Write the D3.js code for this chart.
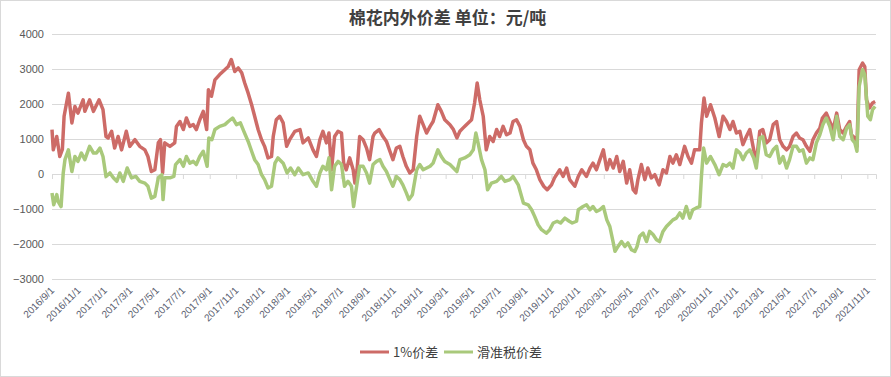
<!DOCTYPE html>
<html>
<head>
<meta charset="utf-8">
<script src="https://cdn.jsdelivr.net/npm/d3@7"></script>
<style>
  body { margin: 0; background: #fff; }
  svg { display: block; font-family: "Liberation Sans", Arial, sans-serif; }
</style>
</head>
<body>
<svg id="chart" width="891" height="377"></svg>
<script>
// chart texts
const chartTitle = "棉花内外价差 单位：元/吨";
const seriesNames = ["1%价差", "滑准税价差"];
const yTicks = [-3000, -2000, -1000, 0, 1000, 2000, 3000, 4000];
const xTickLabels = [
  "2016/9/1", "2016/11/1", "2017/1/1", "2017/3/1", "2017/5/1", "2017/7/1", "2017/9/1", "2017/11/1",
  "2018/1/1", "2018/3/1", "2018/5/1", "2018/7/1", "2018/9/1", "2018/11/1", "2019/1/1", "2019/3/1",
  "2019/5/1", "2019/7/1", "2019/9/1", "2019/11/1", "2020/1/1", "2020/3/1", "2020/5/1", "2020/7/1",
  "2020/9/1", "2020/11/1", "2021/1/1", "2021/3/1", "2021/5/1", "2021/7/1", "2021/9/1", "2021/11/1"
];
const dateRange = ["2016-09-01", "2021-11-21"];

// 1%价差
const spread1Pct = [
  ["2016-09-01",1270],["2016-09-04",690],["2016-09-12",1070],["2016-09-19",500],["2016-09-25",700],
  ["2016-09-29",1650],["2016-10-09",2310],["2016-10-17",1460],["2016-10-24",1930],["2016-10-31",1740],
  ["2016-11-12",2120],["2016-11-16",1790],["2016-11-27",2120],["2016-12-06",1790],["2016-12-19",2120],
  ["2016-12-28",1840],["2017-01-04",1070],["2017-01-09",1030],["2017-01-17",1220],["2017-01-24",740],
  ["2017-02-01",1070],["2017-02-09",690],["2017-02-20",1220],["2017-02-28",790],["2017-03-12",980],
  ["2017-03-23",790],["2017-04-04",690],["2017-04-11",500],["2017-04-19",70],["2017-04-27",120],
  ["2017-05-05",890],["2017-05-10",980],["2017-05-15",30],["2017-05-20",890],["2017-06-01",790],
  ["2017-06-12",890],["2017-06-16",1360],["2017-06-24",1500],["2017-07-02",1270],["2017-07-09",1600],
  ["2017-07-17",1360],["2017-07-25",1410],["2017-08-01",1270],["2017-08-09",1550],["2017-08-17",1790],
  ["2017-08-25",1270],["2017-08-29",2410],["2017-09-05",2220],["2017-09-13",2690],["2017-09-24",2840],
  ["2017-10-06",2980],["2017-10-14",3070],["2017-10-21",3270],["2017-10-29",2930],["2017-11-06",3030],
  ["2017-11-14",2890],["2017-11-21",2600],["2017-11-29",2310],["2017-12-07",1980],["2017-12-14",1650],
  ["2017-12-22",1270],["2017-12-30",980],["2018-01-06",790],["2018-01-14",460],["2018-01-22",500],
  ["2018-01-26",1070],["2018-02-02",1550],["2018-02-10",1650],["2018-02-18",1460],["2018-02-26",790],
  ["2018-03-05",980],["2018-03-17",1220],["2018-03-29",1270],["2018-04-05",890],["2018-04-17",1030],
  ["2018-04-28",690],["2018-05-06",500],["2018-05-14",980],["2018-05-21",1220],["2018-05-29",890],
  ["2018-06-04",1170],["2018-06-10",120],["2018-06-17",1070],["2018-06-25",1220],["2018-07-03",1170],
  ["2018-07-08",310],["2018-07-14",120],["2018-07-22",460],["2018-07-30",120],["2018-08-03",-260],
  ["2018-08-08",120],["2018-08-14",1070],["2018-08-22",980],["2018-08-30",740],["2018-09-06",410],
  ["2018-09-14",1070],["2018-09-18",1170],["2018-09-28",1270],["2018-10-07",1070],["2018-10-15",930],
  ["2018-10-23",650],["2018-10-30",410],["2018-11-07",740],["2018-11-15",790],["2018-11-22",500],
  ["2018-11-30",220],["2018-12-08",30],["2018-12-16",120],["2018-12-24",1070],["2018-12-31",1650],
  ["2019-01-08",1410],["2019-01-16",1170],["2019-01-24",1360],["2019-01-31",1500],["2019-02-11",1980],
  ["2019-02-19",1790],["2019-02-27",1550],["2019-03-11",1410],["2019-03-19",1270],["2019-03-27",1030],
  ["2019-04-03",1220],["2019-04-10",1310],["2019-04-18",1410],["2019-04-30",1550],["2019-05-07",2030],
  ["2019-05-13",2600],["2019-05-19",2120],["2019-05-27",1650],["2019-06-03",690],["2019-06-11",1070],
  ["2019-06-19",930],["2019-06-27",1270],["2019-07-04",1070],["2019-07-12",1360],["2019-07-20",1120],
  ["2019-07-28",1170],["2019-08-04",1500],["2019-08-12",1550],["2019-08-20",1360],["2019-08-28",980],
  ["2019-09-04",790],["2019-09-12",690],["2019-09-19",310],["2019-09-27",120],["2019-10-05",-160],
  ["2019-10-14",-350],["2019-10-22",-450],["2019-11-01",-310],["2019-11-08",-110],["2019-11-20",120],
  ["2019-11-28",-70],["2019-12-06",170],["2019-12-13",-160],["2019-12-25",-350],["2020-01-02",-70],
  ["2020-01-10",120],["2020-01-21",-70],["2020-01-29",170],["2020-02-05",310],["2020-02-13",120],
  ["2020-02-21",410],["2020-02-29",690],["2020-03-08",120],["2020-03-15",410],["2020-03-23",170],
  ["2020-03-31",500],["2020-04-07",70],["2020-04-15",360],["2020-04-23",-260],["2020-04-30",120],
  ["2020-05-08",-450],["2020-05-14",-540],["2020-05-19",-160],["2020-05-27",270],["2020-06-04",-160],
  ["2020-06-11",170],["2020-06-19",-110],["2020-06-27",-20],["2020-07-07",-310],["2020-07-16",120],
  ["2020-07-24",30],["2020-08-01",500],["2020-08-08",310],["2020-08-16",550],["2020-08-24",270],
  ["2020-09-04",790],["2020-09-12",500],["2020-09-20",310],["2020-09-27",690],["2020-10-09",690],
  ["2020-10-13",1460],["2020-10-19",2170],["2020-10-25",1650],["2020-11-03",1980],["2020-11-13",1600],
  ["2020-11-23",1070],["2020-12-02",1650],["2020-12-10",1500],["2020-12-18",1270],["2020-12-25",1500],
  ["2021-01-02",1170],["2021-01-10",1220],["2021-01-17",840],["2021-01-25",1070],["2021-02-02",1270],
  ["2021-02-11",690],["2021-02-17",310],["2021-02-25",1220],["2021-03-04",1270],["2021-03-12",890],
  ["2021-03-20",980],["2021-03-28",1410],["2021-04-05",1500],["2021-04-12",980],["2021-04-20",790],
  ["2021-04-28",690],["2021-05-05",790],["2021-05-13",1070],["2021-05-21",1170],["2021-05-28",1030],
  ["2021-06-05",980],["2021-06-13",790],["2021-06-21",650],["2021-06-28",980],["2021-07-06",1170],
  ["2021-07-14",1310],["2021-07-20",1600],["2021-07-29",1740],["2021-08-06",1500],["2021-08-14",1270],
  ["2021-08-22",1740],["2021-08-29",1270],["2021-09-06",1170],["2021-09-14",1360],["2021-09-21",1500],
  ["2021-09-25",1120],["2021-10-03",1030],["2021-10-08",790],["2021-10-13",2980],["2021-10-21",3170],
  ["2021-10-26",3070],["2021-10-30",2120],["2021-11-06",1890],["2021-11-13",2030],["2021-11-19",2070]
];

// 滑准税价差
const spreadSliding = [
  ["2016-09-01",-540],["2016-09-05",-880],["2016-09-12",-590],["2016-09-15",-780],["2016-09-22",-930],
  ["2016-09-27",30],["2016-10-01",410],["2016-10-09",690],["2016-10-17",70],["2016-10-24",500],
  ["2016-10-31",360],["2016-11-08",600],["2016-11-16",410],["2016-11-27",790],["2016-12-06",600],
  ["2016-12-13",600],["2016-12-21",740],["2016-12-28",500],["2017-01-04",-70],["2017-01-13",30],
  ["2017-01-21",-110],["2017-01-29",-210],["2017-02-05",30],["2017-02-13",-210],["2017-02-22",170],
  ["2017-03-04",-110],["2017-03-14",-70],["2017-03-23",-210],["2017-04-04",-260],["2017-04-11",-350],
  ["2017-04-19",-690],["2017-04-27",-640],["2017-05-05",-110],["2017-05-13",-20],["2017-05-16",-730],
  ["2017-05-20",-110],["2017-06-01",-110],["2017-06-10",-70],["2017-06-14",270],["2017-06-24",410],
  ["2017-07-02",220],["2017-07-09",500],["2017-07-17",310],["2017-07-25",360],["2017-08-01",270],
  ["2017-08-09",500],["2017-08-17",650],["2017-08-26",220],["2017-08-30",1030],["2017-09-06",980],
  ["2017-09-13",1270],["2017-09-24",1360],["2017-10-06",1410],["2017-10-14",1500],["2017-10-24",1600],
  ["2017-11-02",1410],["2017-11-11",1460],["2017-11-19",1220],["2017-11-29",930],["2017-12-07",650],
  ["2017-12-14",410],["2017-12-22",270],["2017-12-30",-20],["2018-01-06",-160],["2018-01-14",-400],
  ["2018-01-22",-350],["2018-01-30",310],["2018-02-06",460],["2018-02-18",310],["2018-02-27",30],
  ["2018-03-07",170],["2018-03-17",-20],["2018-03-25",170],["2018-04-05",-20],["2018-04-17",30],
  ["2018-04-28",-210],["2018-05-06",-350],["2018-05-14",30],["2018-05-21",220],["2018-05-29",120],
  ["2018-06-04",460],["2018-06-10",-450],["2018-06-17",220],["2018-06-25",360],["2018-07-03",270],
  ["2018-07-10",-350],["2018-07-18",-210],["2018-07-26",-350],["2018-07-31",-930],["2018-08-07",-350],
  ["2018-08-14",220],["2018-08-22",220],["2018-08-30",30],["2018-09-06",-260],["2018-09-14",270],
  ["2018-09-22",360],["2018-09-30",410],["2018-10-07",220],["2018-10-15",70],["2018-10-23",-160],
  ["2018-10-30",-350],["2018-11-07",-70],["2018-11-15",-160],["2018-11-22",-310],["2018-11-30",-540],
  ["2018-12-06",-730],["2018-12-14",-590],["2018-12-24",120],["2018-12-31",270],["2019-01-08",120],
  ["2019-01-16",170],["2019-01-24",220],["2019-01-31",310],["2019-02-11",690],["2019-02-19",500],
  ["2019-02-27",360],["2019-03-11",270],["2019-03-19",170],["2019-03-27",70],["2019-04-03",410],
  ["2019-04-14",460],["2019-04-26",550],["2019-05-04",690],["2019-05-10",1170],["2019-05-15",890],
  ["2019-05-23",410],["2019-05-31",120],["2019-06-06",-450],["2019-06-15",-260],["2019-06-27",-210],
  ["2019-07-08",-70],["2019-07-16",-210],["2019-07-28",-160],["2019-08-04",-70],["2019-08-16",-310],
  ["2019-08-28",-830],["2019-09-08",-880],["2019-09-16",-1020],["2019-09-23",-1210],["2019-10-01",-1450],
  ["2019-10-09",-1590],["2019-10-20",-1690],["2019-10-28",-1590],["2019-11-05",-1400],["2019-11-14",-1350],
  ["2019-11-22",-1400],["2019-12-02",-1260],["2019-12-12",-1350],["2019-12-19",-1400],["2019-12-29",-1350],
  ["2020-01-02",-1020],["2020-01-13",-930],["2020-01-21",-880],["2020-01-29",-1020],["2020-02-05",-930],
  ["2020-02-13",-1070],["2020-02-21",-1020],["2020-02-29",-930],["2020-03-08",-1310],["2020-03-15",-1500],
  ["2020-03-23",-1970],["2020-03-27",-2210],["2020-04-03",-2070],["2020-04-11",-1930],["2020-04-19",-2070],
  ["2020-04-26",-1970],["2020-05-04",-2160],["2020-05-12",-2210],["2020-05-17",-2070],["2020-05-23",-1780],
  ["2020-05-31",-1690],["2020-06-08",-1930],["2020-06-15",-1640],["2020-06-23",-1730],["2020-07-01",-1880],
  ["2020-07-08",-1930],["2020-07-16",-1640],["2020-07-24",-1500],["2020-08-01",-1400],["2020-08-08",-1310],
  ["2020-08-16",-1260],["2020-08-24",-1110],["2020-08-31",-1260],["2020-09-08",-930],["2020-09-16",-1260],
  ["2020-09-23",-1020],["2020-10-01",-970],["2020-10-09",-930],["2020-10-13",-70],["2020-10-18",740],
  ["2020-10-25",310],["2020-11-03",500],["2020-11-13",270],["2020-11-23",-20],["2020-12-02",270],
  ["2020-12-10",220],["2020-12-18",310],["2020-12-25",170],["2021-01-02",690],["2021-01-10",600],
  ["2021-01-17",410],["2021-01-25",600],["2021-02-02",690],["2021-02-11",460],["2021-02-17",170],
  ["2021-02-25",1030],["2021-03-04",1070],["2021-03-12",550],["2021-03-20",500],["2021-03-28",690],
  ["2021-04-05",790],["2021-04-12",310],["2021-04-20",500],["2021-04-28",170],["2021-05-05",410],
  ["2021-05-13",790],["2021-05-21",790],["2021-05-28",650],["2021-06-05",690],["2021-06-13",310],
  ["2021-06-21",460],["2021-06-28",410],["2021-07-06",890],["2021-07-14",1120],["2021-07-21",1410],
  ["2021-07-29",1600],["2021-08-06",1360],["2021-08-14",980],["2021-08-22",1650],["2021-08-29",1070],
  ["2021-09-06",980],["2021-09-14",1310],["2021-09-21",1410],["2021-09-27",980],["2021-10-03",890],
  ["2021-10-08",650],["2021-10-13",2500],["2021-10-21",2980],["2021-10-26",2840],["2021-11-02",1650],
  ["2021-11-08",1550],["2021-11-13",1840],["2021-11-19",1930]
];

const colors = ["#cd6b67", "#a9c97b"];

function MakeChart() {
    const svg = d3.select("#chart");
    const width = +svg.attr("width");
    const height = +svg.attr("height");

    const margin = {left: 52, right: 15, top: 34, bottom: 98};
    const plotW = width - margin.left - margin.right;
    const plotH = height - margin.top - margin.bottom;

    // outer border
    svg.append("rect")
        .attr("x", 0.5).attr("y", 0.5)
        .attr("width", width - 1).attr("height", height - 1)
        .attr("fill", "#fff")
        .attr("stroke", "#d9d9d9");

    const parseDay = d3.timeParse("%Y-%m-%d");
    const parseTick = d3.timeParse("%Y/%m/%d");

    const xScale = d3.scaleTime()
        .domain(dateRange.map(parseDay))
        .range([0, plotW]);
    const yScale = d3.scaleLinear()
        .domain([-3000, 4000])
        .range([plotH, 0]);

    const g = svg.append("g").attr("transform", `translate(${margin.left},${margin.top})`);

    // gridlines + y labels
    const yAxis = g.append("g")
        .call(d3.axisLeft(yScale).tickValues(yTicks).tickSize(-plotW).tickPadding(8).tickFormat(d => d < 0 ? "\u2212" + Math.abs(d) : d));
    yAxis.select(".domain").remove();
    yAxis.selectAll(".tick line").attr("stroke", "#d9d9d9");
    yAxis.selectAll(".tick text")
        .attr("fill", "#595959")
        .style("font-size", "11px");

    // x ticks sit on the zero line
    const tickDates = xTickLabels.map(parseTick);
    const xAxis = g.append("g")
        .attr("transform", `translate(0,${yScale(0)})`)
        .call(d3.axisBottom(xScale).tickValues(tickDates).tickSize(5).tickFormat(""));
    xAxis.select(".domain").attr("stroke", "#d9d9d9");
    xAxis.selectAll(".tick line").attr("stroke", "#d9d9d9");

    // rotated x labels below the plot
    g.append("g")
        .selectAll("text")
        .data(tickDates)
        .join("text")
        .attr("transform", d => `translate(${xScale(d) + 3},${plotH + 12}) rotate(-45)`)
        .attr("text-anchor", "end")
        .attr("fill", "#5a6070")
        .style("font-size", "10px")
        .text((d, i) => xTickLabels[i]);

    // lines
    const line = d3.line()
        .x(d => xScale(parseDay(d[0])))
        .y(d => yScale(d[1]));

    [spread1Pct, spreadSliding].forEach((series, i) => {
        g.append("path")
            .datum(series)
            .attr("fill", "none")
            .attr("stroke", colors[i])
            .attr("stroke-width", 3.5)
            .attr("stroke-linejoin", "round")
            .attr("d", line);
    });

    // title
    svg.append("text")
        .attr("x", width / 2 + 2)
        .attr("y", 24)
        .attr("text-anchor", "middle")
        .attr("fill", "#404040")
        .style("font-family", "'Noto Sans CJK SC', sans-serif")
        .style("font-weight", "bold")
        .style("font-size", "17px")
        .text(chartTitle);

    // legend
    const legend = svg.append("g").attr("transform", `translate(360, 352)`);
    const legendX = [0, 84];
    seriesNames.forEach((name, i) => {
        legend.append("line")
            .attr("x1", legendX[i]).attr("x2", legendX[i] + 29)
            .attr("y1", 0).attr("y2", 0)
            .attr("stroke", colors[i]).attr("stroke-width", 3);
        legend.append("text")
            .attr("x", legendX[i] + 33).attr("y", 5)
            .attr("fill", "#404040")
            .style("font-family", "'Noto Sans CJK SC', sans-serif")
            .style("font-size", "13px")
            .text(name);
    });
}

MakeChart();
</script>
</body>
</html>
